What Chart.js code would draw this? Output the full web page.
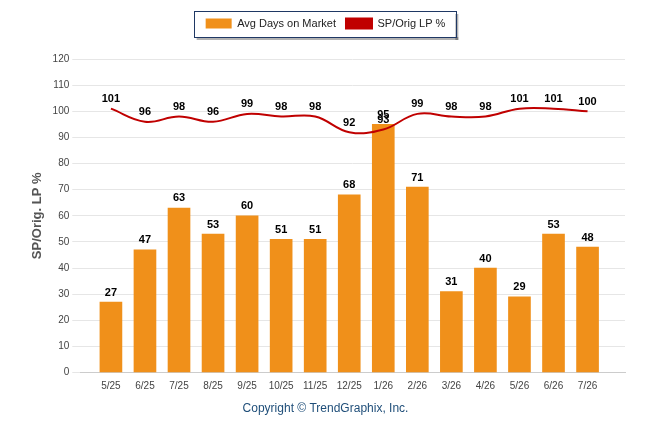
<!DOCTYPE html>
<html>
<head>
<meta charset="utf-8">
<script src="https://cdn.jsdelivr.net/npm/chart.js@4"></script>
<style>
  html, body { margin: 0; padding: 0; background: #fff; }
  #wrap { width: 646px; height: 434px; }
</style>
</head>
<body>
<div id="wrap"><canvas id="mktChart"></canvas></div>
<script>
const months = ['5/25','6/25','7/25','8/25','9/25','10/25','11/25','12/25','1/26','2/26','3/26','4/26','5/26','6/26','7/26'];
const avgDays = [27, 47, 63, 53, 60, 51, 51, 68, 95, 71, 31, 40, 29, 53, 48];
const spOrigLp = [101, 96, 98, 96, 99, 98, 98, 92, 93, 99, 98, 98, 101, 101, 100];
const yTicks = [0, 10, 20, 30, 40, 50, 60, 70, 80, 90, 100, 110, 120];

// подписи значений над столбцами и точками + рамка вокруг легенды
const labelsPlugin = {
    id: 'valueLabels',
    beforeInit(chart) {
        const origFit = chart.legend.fit;
        chart.legend.fit = function () {
            origFit.bind(chart.legend)();
            this.height += 20;
        };
    },
    afterDatasetsDraw(chart) {
        const ctx = chart.ctx;
        ctx.save();
        ctx.font = 'bold 11px Arial, "Liberation Sans", sans-serif';
        ctx.fillStyle = '#000';
        ctx.textAlign = 'center';
        ctx.textBaseline = 'bottom';
        chart.data.datasets.forEach((ds, i) => {
            chart.getDatasetMeta(i).data.forEach((el, j) => {
                ctx.fillText(ds.data[j].y, el.x, el.y - 4);
            });
        });
        ctx.restore();
    },
    afterDraw(chart) {
        const boxes = chart.legend.legendHitBoxes;
        if (!boxes || !boxes.length) return;
        const left = Math.min(...boxes.map(b => b.left)) - 12;
        const right = Math.max(...boxes.map(b => b.left + b.width)) + 10;
        const midY = boxes[0].top + boxes[0].height / 2;
        const h = 26, top = Math.round(midY - h / 2);
        const ctx = chart.ctx;
        ctx.save();
        ctx.fillStyle = 'rgba(0,0,0,0.3)';
        ctx.fillRect(left + 3, top + h, right - left, 3);
        ctx.fillRect(right, top + 3, 3, h);
        ctx.strokeStyle = '#1f3864';
        ctx.lineWidth = 1;
        ctx.strokeRect(Math.round(left) + 0.5, top + 0.5, Math.round(right - left), h);
        ctx.restore();
    }
};

const yMax = yTicks[yTicks.length - 1];
const toPoints = arr => arr.map((v, i) => ({ x: i, y: v }));

new Chart(document.getElementById('mktChart'), {
    data: {
        datasets: [
            {
                type: 'line',
                label: 'SP/Orig LP %',
                data: toPoints(spOrigLp),
                borderColor: '#c00000',
                backgroundColor: '#c00000',
                borderWidth: 2,
                tension: 0.4,
                pointRadius: 0,
                order: 0
            },
            {
                type: 'bar',
                label: 'Avg Days on Market',
                data: toPoints(avgDays),
                backgroundColor: '#f0901a',
                barThickness: 22,
                order: 1
            }
        ]
    },
    options: {
        responsive: true,
        maintainAspectRatio: false,
        animation: false,
        layout: { padding: { left: 26, right: 21, top: 8, bottom: 0 } },
        plugins: {
            legend: {
                reverse: true,
                labels: {
                    color: '#222',
                    font: { size: 11, family: 'Arial, "Liberation Sans", sans-serif' },
                    boxWidth: 26,
                    boxHeight: 10,
                    padding: 10
                }
            },
            subtitle: {
                display: true,
                position: 'bottom',
                text: 'Copyright © TrendGraphix, Inc.',
                color: '#1f4e79',
                font: { size: 12, family: 'Arial, "Liberation Sans", sans-serif' },
                padding: { top: 9, bottom: 18 }
            },
            tooltip: { enabled: false }
        },
        scales: {
            x: {
                type: 'linear',
                offset: false,
                min: -0.9,
                max: 15.1,
                grid: { display: false },
                border: { color: '#ccc' },
                afterBuildTicks: axis => { axis.ticks = months.map((m, i) => ({ value: i })); },
                ticks: {
                    autoSkip: false,
                    maxRotation: 0,
                    padding: 0,
                    color: '#444',
                    font: { size: 10 },
                    callback: v => months[v] ?? ''
                }
            },
            y: {
                min: 0,
                max: yMax,
                ticks: { stepSize: 10, color: '#444', font: { size: 10 } },
                grid: { color: '#e6e6e6' },
                border: { display: false },
                title: {
                    display: true,
                    text: 'SP/Orig. LP %',
                    color: '#555',
                    font: { size: 13, weight: 'bold', family: 'Arial, "Liberation Sans", sans-serif' }
                }
            }
        }
    },
    plugins: [labelsPlugin]
});
</script>
</body>
</html>
